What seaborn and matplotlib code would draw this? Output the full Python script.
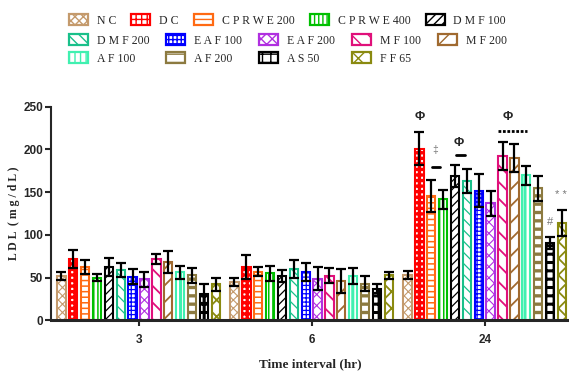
import matplotlib
matplotlib.use('Agg')
import matplotlib.pyplot as plt
import matplotlib.patches as mpatches
import seaborn as sns
import pandas as pd

# ---------------- data ----------------
time_labels = ['3', '6', '24']
groups = ['NC', 'DC', 'CPRWE 200', 'CPRWE 400', 'DMF 100', 'DMF 200', 'EAF 100',
          'EAF 200', 'MF 100', 'MF 200', 'AF 100', 'AF 200', 'AS 50', 'FF 65']
legend_labels = ['N C', 'D C', 'C P R W E 200', 'C P R W E 400', 'D M F 100',
                 'D M F 200', 'E A F 100', 'E A F 200', 'M F 100', 'M F 200',
                 'A F 100', 'A F 200', 'A S 50', 'F F 65']

ldl_3 = [51.8, 71.7, 62, 50, 62.4, 59, 51, 48, 71.7, 68, 56, 52.6, 31, 42]
sd_3 = [5, 11, 8, 4.5, 10, 8, 9, 8.5, 6, 13, 7.5, 8.5, 11, 8]
ldl_6 = [44.8, 62.7, 57, 55, 51.5, 60, 56.5, 48.7, 52.2, 46.4, 51.8, 42.8, 37, 52.6]
sd_6 = [5, 14, 5.5, 9, 7, 11, 11, 13.5, 8.5, 14, 9, 9, 5, 4]
ldl_24 = [53, 201, 145.8, 141.5, 168.5, 163, 151.7, 137, 192.2, 190, 169.6, 154.4, 90, 113.8]
sd_24 = [5, 19.5, 18.7, 11, 13, 14, 19.5, 14.5, 16.4, 16, 11, 15, 7, 15]

colors = ['#C49A6C', '#FF0000', '#FF6A13', '#00C000', '#000000', '#19C08A', '#0000FF',
          '#B030E0', '#E0107A', '#A06A30', '#40F0B0', '#8C7A40', '#000000', '#8A8A10']
hatches = ['xxxx', '+++', '---', '||||', '////', '\\\\\\', '++++',
           'xxx', '\\\\', '//', '|||', '--', '++', 'xx']
hatch_lw = [0.8, 2.4, 1.1, 1.1, 0.9, 0.9, 0.9, 0.8, 1.3, 1.3, 2.2, 2.4, 2.2, 1.3]

rows = []
for t, vals, errs in zip(time_labels, [ldl_3, ldl_6, ldl_24], [sd_3, sd_6, sd_24]):
    for g, v, e in zip(groups, vals, errs):
        rows.append(dict(time=t, group=g, ldl=v, sd=e))
df = pd.DataFrame(rows)

# ---------------- figure ----------------
sns.set_style('ticks')
plt.rcParams['font.family'] = ['Liberation Sans', 'DejaVu Sans']
plt.rcParams['hatch.linewidth'] = 1.0

fig = plt.figure(figsize=(5.69, 3.74), dpi=100)
ax = fig.add_axes([0.0905, 0.1436, 0.9095, 0.5711])

group_width = 0.96
sns.barplot(data=df, x='time', y='ldl', hue='group', order=time_labels,
            hue_order=groups, palette=colors, width=group_width,
            errorbar=None, fill=False, linewidth=1.5, legend=False, ax=ax)

pitch = group_width / len(groups)
bar_w = pitch * 0.7
has_hlw = hasattr(mpatches.Patch, 'set_hatch_linewidth')
bar_conts = list(ax.containers)[:len(groups)]
for i, cont in enumerate(bar_conts):
    xs, ys = [], []
    for bar in cont:
        cx = bar.get_x() + bar.get_width() / 2
        bar.set_width(bar_w)
        bar.set_x(cx - bar_w / 2)
        bar.set_facecolor('white')
        bar.set_edgecolor(colors[i])
        bar.set_hatch(hatches[i])
        bar.set_linewidth(1.5)
        if has_hlw:
            bar.set_hatch_linewidth(hatch_lw[i])
        xs.append(cx)
        ys.append(bar.get_height())
    errs = df[df['group'] == groups[i]].set_index('time').loc[time_labels, 'sd'].values
    ax.errorbar(xs, ys, yerr=errs, fmt='none', ecolor='black', elinewidth=1.6,
                capsize=3.5, capthick=1.6, zorder=5)

ax.set_xlim(-0.503, 2.487)
ax.set_ylim(0, 250)
ax.set_yticks([0, 50, 100, 150, 200, 250])
sns.despine(ax=ax)
ax.spines['left'].set_linewidth(1.5)
ax.spines['bottom'].set_linewidth(2.2)
ax.tick_params(axis='y', length=4, width=1.5, pad=2, labelsize=8.5)
ax.tick_params(axis='x', length=4, width=1.5, pad=6, labelsize=8.5)
for lab in ax.get_xticklabels() + ax.get_yticklabels():
    lab.set_fontweight('bold')

ax.set_ylabel('L D L  ( m g / d L )', family='Liberation Serif', fontweight='bold',
              fontsize=8.5, labelpad=2.5)
ax.set_xlabel('Time interval (hr)', family='Liberation Serif', fontweight='bold',
              fontsize=9.5, labelpad=9)

# ---------------- annotations ----------------
ax.text(1.622, 237.5, 'Φ', ha='center', va='center', fontsize=9, fontweight='bold', clip_on=False)
ax.text(2.133, 237.5, 'Φ', ha='center', va='center', fontsize=9, fontweight='bold', clip_on=False)
ax.text(1.850, 207.8, 'Φ', ha='center', va='center', fontsize=9, fontweight='bold')
ax.text(1.715, 199.3, '‡', ha='center', va='center', fontsize=7.5, color='#777777')
ax.plot([1.694, 1.742], [179.7, 179.7], color='black', lw=2)
ax.plot([1.834, 1.886], [193.4, 193.4], color='black', lw=2)
ax.plot([2.079, 2.243], [221.8, 221.8], color='black', lw=2, ls=(0, (1, 0.6)))
ax.text(2.377, 115.4, '#', ha='center', va='center', fontsize=8, color='#777777')
ax.text(2.439, 146.6, '* *', ha='center', va='center', fontsize=8, color='#777777')

# ---------------- legends ----------------
handles = [mpatches.Patch(facecolor='white', edgecolor=c, hatch=h, linewidth=1.6)
           for c, h in zip(colors, hatches)]
if has_hlw:
    for hd, lw in zip(handles, hatch_lw):
        hd.set_hatch_linewidth(lw)

leg_kw = dict(frameon=False, prop={'family': 'Liberation Serif', 'size': 8.5},
              handlelength=1.6, handleheight=1.1, handletextpad=0.75,
              borderpad=0, borderaxespad=0, loc='upper left')
W, H = 569.0, 374.0
leg1 = fig.legend(handles[:5], legend_labels[:5], ncol=5, columnspacing=1.3,
                  bbox_to_anchor=(69 / W, 1 - 14 / H), **leg_kw)
order = [5, 10, 6, 11, 7, 12, 8, 13, 9]
leg2 = fig.legend([handles[k] for k in order], [legend_labels[k] for k in order],
                  ncol=5, columnspacing=1.45, labelspacing=0.45,
                  bbox_to_anchor=(69 / W, 1 - 34 / H), **leg_kw)

fig.savefig('out.png', dpi=100)
